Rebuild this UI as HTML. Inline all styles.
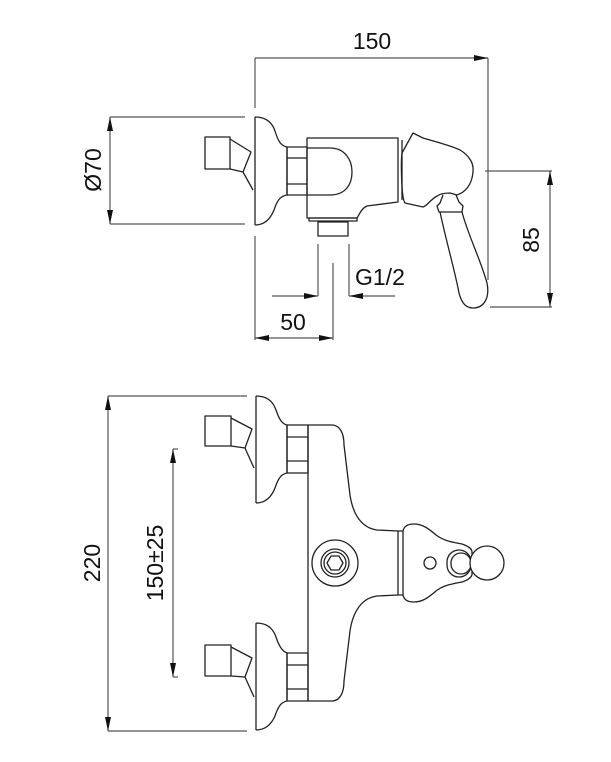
<!DOCTYPE html>
<html><head><meta charset="utf-8"><style>
html,body{margin:0;padding:0;background:#fff;}
svg{display:block;}
text{font-family:"Liberation Sans",Arial,sans-serif;fill:#111;}
</style></head><body>
<svg width="611" height="762" viewBox="0 0 611 762" xmlns="http://www.w3.org/2000/svg">
<defs>
<marker id="a" viewBox="0 0 14 6" refX="14" refY="3" markerWidth="14" markerHeight="6" markerUnits="userSpaceOnUse" orient="auto-start-reverse"><path d="M0,0 L14,3 L0,6 Z" fill="#111"/></marker>
</defs>
<g fill="none" stroke="#555" stroke-width="1.2">
<line x1="255" y1="58" x2="255" y2="108"/>
<line x1="255" y1="236" x2="255" y2="340"/>
<line x1="255" y1="58" x2="488" y2="58" marker-end="url(#a)"/>
<line x1="488" y1="58" x2="488" y2="280"/>
<line x1="110" y1="117" x2="245" y2="117"/>
<line x1="110" y1="224" x2="245" y2="224"/>
<line x1="110" y1="117" x2="110" y2="224" marker-start="url(#a)" marker-end="url(#a)"/>
<line x1="485" y1="171" x2="552" y2="171"/>
<line x1="490" y1="307" x2="552" y2="307"/>
<line x1="550" y1="171" x2="550" y2="307" marker-start="url(#a)" marker-end="url(#a)"/>
<line x1="318" y1="244" x2="318" y2="296"/>
<line x1="349" y1="244" x2="349" y2="296"/>
<line x1="272" y1="296" x2="318" y2="296" marker-end="url(#a)"/>
<line x1="395" y1="296" x2="349" y2="296" marker-end="url(#a)"/>
<line x1="333" y1="263" x2="333" y2="340"/>
<line x1="255" y1="338" x2="333" y2="338" marker-start="url(#a)" marker-end="url(#a)"/>
</g>
<g fill="none" stroke="#222" stroke-width="1.3" stroke-linejoin="round">
<rect x="205" y="137" width="25" height="32"/>
<path d="M230,139 L251,152 L243,172 L230,169"/>
<path d="M243,172 L253,190"/>
<line x1="255" y1="117" x2="255" y2="225"/>
<path d="M255,117 C266,117 272,122 275,131 C278,141 281,146 287,147 L287,195 C280,196 277,201 274,210 C270,220 264,225 255,225"/>
<rect x="287" y="147" width="20" height="48"/>
<line x1="287" y1="158" x2="307" y2="158"/>
<line x1="287" y1="184" x2="307" y2="184"/>
<path d="M307,138 L398,138 L398,202 L367,206 C362,208 360,213 357,218 L307,218 Z"/>
<path d="M307,148 L330,148 C345,148 352,160 352,172 C352,185 345,195 330,195 L307,195"/>
<rect x="309" y="218" width="48" height="3"/>
<rect x="318" y="222" width="30" height="14"/>
<line x1="402" y1="140" x2="402" y2="200"/>
<path d="M402,153 L413,133 L423,138 C440,143 452,146 460,150 C470,156 474,164 473,172 C472,184 466,192 457,195 L450,193 C445,193 440,194 437,196 C430,200 427,206 423,207 L405,203 C401,198 401,160 402,153 Z"/>
<path d="M443,195 L440,203 L437,206 L439,212 L462,212 L463,206 L459,202 L456,195"/>
<path d="M440,212 C446,240 454,268 458,288 C460,300 464,308 473,308 C484,308 490,298 487,283 C480,258 468,235 462,212"/>
</g>
<g fill="none" stroke="#555" stroke-width="1.2">
<line x1="108" y1="396" x2="247" y2="396"/>
<line x1="108" y1="731" x2="247" y2="731"/>
<line x1="108" y1="396" x2="108" y2="731" marker-start="url(#a)" marker-end="url(#a)"/>
<line x1="173" y1="449" x2="173" y2="677" marker-start="url(#a)" marker-end="url(#a)"/>
<line x1="173" y1="449" x2="178" y2="449"/>
<line x1="173" y1="677" x2="178" y2="677"/>
</g>
<g fill="none" stroke="#222" stroke-width="1.3" stroke-linejoin="round">
<rect x="205" y="416" width="26" height="30"/>
<path d="M231,418 L252,429 L245,448 L231,446"/>
<path d="M245,448 L254,468"/>
<line x1="256" y1="396" x2="256" y2="503"/>
<path d="M256,396 C267,396 273,401 276,410 C279,419 282,424 287,425 L287,473 C281,474 278,479 275,488 C271,498 265,503 256,503"/>
<rect x="287" y="425" width="21" height="48"/>
<line x1="287" y1="437" x2="308" y2="437"/>
<line x1="287" y1="461" x2="308" y2="461"/>
<rect x="205" y="645" width="26" height="31"/>
<path d="M231,647 L252,658 L245,677 L231,676"/>
<path d="M245,677 L254,697"/>
<line x1="256" y1="623" x2="256" y2="730"/>
<path d="M256,623 C267,623 273,628 276,637 C279,646 282,651 287,653 L287,701 C281,702 278,707 275,716 C271,725 265,730 256,730"/>
<rect x="287" y="653" width="21" height="48"/>
<line x1="287" y1="665" x2="308" y2="665"/>
<line x1="287" y1="689" x2="308" y2="689"/>
<line x1="308" y1="425" x2="308" y2="701"/>
<path d="M308,425 L333,425 C340,426 344,433 344,445 L350,495 C353,515 362,528 377,530 L398,531"/>
<path d="M308,701 L333,701 C340,700 344,693 344,681 L350,631 C353,611 362,598 377,596 L398,595"/>
<rect x="398" y="531" width="5" height="64"/>
<circle cx="335" cy="563" r="23"/>
<circle cx="335" cy="563" r="14"/>
<circle cx="335" cy="563" r="11"/>
<path d="M327,563 L331,556 L339,556 L343,563 L339,570 L331,570 Z"/>
<path d="M403,531 C404,526 408,524 414,524 C422,524 428,528 436,535 C444,541 452,542 462,544 C468,546 472,549 472,552 L472,574 C472,577 468,580 462,582 C452,584 444,585 436,591 C428,598 422,602 414,602 C408,602 404,600 403,595"/>
<circle cx="430" cy="563" r="6"/>
<rect x="447" y="550" width="24" height="27" rx="12"/>
<rect x="451" y="553" width="20" height="21" rx="10"/>
<circle cx="487" cy="563" r="17" fill="#fff"/>
</g>
<g font-size="23">
<text x="372" y="49" text-anchor="middle">150</text>
<text x="293" y="330" text-anchor="middle">50</text>
<text x="355" y="285">G1/2</text>
<text transform="translate(101,170) rotate(-90)" text-anchor="middle">Ø70</text>
<text transform="translate(539,240) rotate(-90)" text-anchor="middle">85</text>
<text transform="translate(100,563) rotate(-90)" text-anchor="middle">220</text>
<text transform="translate(163,563) rotate(-90)" text-anchor="middle">150±25</text>
</g>
</svg>
</body></html>
